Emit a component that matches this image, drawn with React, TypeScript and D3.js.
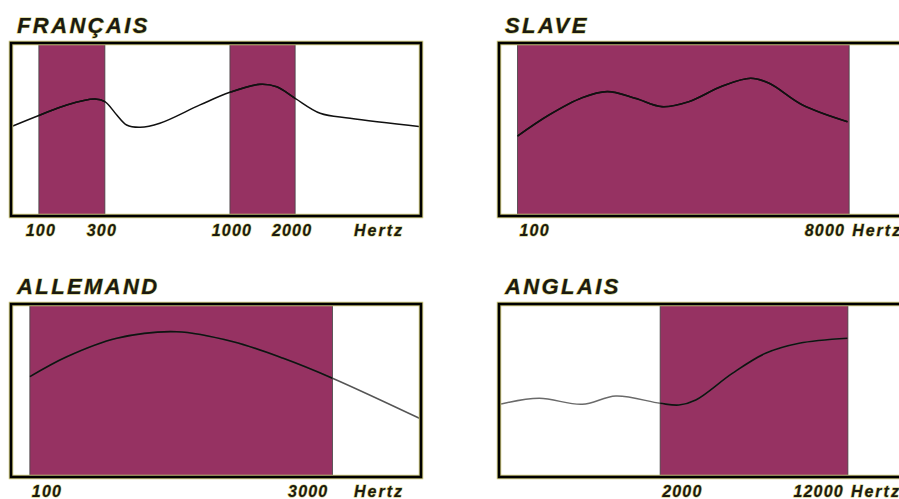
import React, { useEffect, useRef } from 'react';
import * as d3 from 'd3';

// panel titles
const titles = ['FRANÇAIS', 'SLAVE', 'ALLEMAND', 'ANGLAIS'];

// position along the axis (0-100) / level (0-100)
const francaisCurve = [
  [0, 51.6], [7.1, 58.4], [13.6, 64.2], [20.5, 67.6], [22.9, 66.1], [25.8, 58.4],
  [28.2, 52.6], [31.5, 51.3], [36.3, 53.6], [46.1, 64.2], [53.4, 71.5], [60.7, 76.1],
  [64.8, 74.7], [69.3, 68.0], [75.4, 59.4], [82.7, 56.5], [100, 51.6],
];
const slaveCurve = [
  [4.5, 46.2], [12.2, 58.4], [20.3, 68.4], [26.4, 71.9], [33.3, 68.0], [39.8, 63.2],
  [46.3, 66.1], [54.5, 75.1], [61.4, 79.6], [65.9, 76.7], [74.0, 64.2], [85.0, 54.5],
];
const allemandCurve = [
  [4.6, 58.0], [13.6, 69.5], [25.8, 80.2], [40.4, 84.0], [54.2, 78.2],
  [66.4, 68.6], [78.4, 57.1], [100, 33.5],
];
const anglaisCurve = [
  [0.5, 42.2], [9.8, 45.5], [20.3, 42.0], [28.5, 46.8], [39.3, 42.6], [43.9, 41.6],
  [48.0, 44.5], [56.9, 59.9], [65.0, 71.5], [73.2, 77.3], [85.0, 80.2],
];

// frequency bands (axis positions) and their tick labels
const francaisBands = [[6.8, 22.9], [53.4, 69.3]];
const francaisTicks = [['100', '300'], ['1000', '2000']];
const slaveBands = [[4.5, 85.4]];
const slaveTicks = [['100', '8000']];
const allemandBands = [[4.6, 78.4]];
const allemandTicks = [['100', '3000']];
const anglaisBands = [[39.3, 85.1]];
const anglaisTicks = [['2000', '12000']];

const unit = 'Hertz';

const panels = [
  { title: titles[0], curve: francaisCurve, bands: francaisBands, ticks: francaisTicks, outside: '#111' },
  { title: titles[1], curve: slaveCurve, bands: slaveBands, ticks: slaveTicks, outside: '#111' },
  { title: titles[2], curve: allemandCurve, bands: allemandBands, ticks: allemandTicks, outside: '#555' },
  { title: titles[3], curve: anglaisCurve, bands: anglaisBands, ticks: anglaisTicks, outside: '#6a6a6a' },
];

export default function App() {
  const ref = useRef<SVGSVGElement>(null);

  useEffect(() => {
    const svg = d3.select(ref.current);
    svg.selectAll('*').remove();

    const boxW = 410;
    const boxH = 173;
    const lefts = [11, 499];
    const tops = [43, 304];

    panels.forEach((p, i) => {
      const x0 = lefts[i % 2];
      const y0 = tops[Math.floor(i / 2)];
      const g = svg.append('g').attr('transform', `translate(${x0},${y0})`);

      const x = d3.scaleLinear().domain([0, 100]).range([0, boxW]);
      const y = d3.scaleLinear().domain([0, 100]).range([boxH, 0]);

      g.append('rect').attr('width', boxW).attr('height', boxH).attr('fill', '#fff');

      g.selectAll('rect.band').data(p.bands).enter()
        .append('rect')
        .attr('class', 'band')
        .attr('x', d => x(d[0]))
        .attr('width', d => x(d[1]) - x(d[0]))
        .attr('height', boxH)
        .attr('fill', '#963262')
        .attr('stroke', '#444')
        .attr('stroke-width', 0.8);

      const line = d3.line<number[]>()
        .x(d => x(d[0]))
        .y(d => y(d[1]))
        .curve(d3.curveCatmullRom.alpha(0.5));

      const clipId = 'clip' + i;
      const clip = g.append('clipPath').attr('id', clipId);
      clip.selectAll('rect').data(p.bands).enter()
        .append('rect')
        .attr('x', d => x(d[0]))
        .attr('width', d => x(d[1]) - x(d[0]))
        .attr('height', boxH);

      g.append('path').attr('d', line(p.curve))
        .attr('fill', 'none').attr('stroke', p.outside).attr('stroke-width', 1.5);
      g.append('path').attr('d', line(p.curve))
        .attr('fill', 'none').attr('stroke', '#111').attr('stroke-width', 1.6)
        .attr('clip-path', `url(#${clipId})`);

      // frame with a faint yellow halo
      g.append('rect').attr('width', boxW).attr('height', boxH)
        .attr('fill', 'none').attr('stroke', '#c9c47a').attr('stroke-width', 4.5);
      g.append('rect').attr('width', boxW).attr('height', boxH)
        .attr('fill', 'none').attr('stroke', '#000').attr('stroke-width', 2.6);

      const textStyle = (t: any, size: number, spacing: number) => t
        .attr('font-family', '"Liberation Sans", Arial, sans-serif')
        .attr('font-weight', 'bold')
        .attr('font-style', 'italic')
        .attr('font-size', size)
        .attr('letter-spacing', spacing)
        .attr('fill', '#1a1a12')
        .attr('stroke', '#cfc86a')
        .attr('stroke-width', 1)
        .attr('paint-order', 'stroke');

      textStyle(g.append('text').attr('x', 6).attr('y', -10).text(p.title), 22, 2.4);

      p.bands.forEach((b, j) => {
        const wide = x(b[1]) - x(b[0]) > 120;
        textStyle(g.append('text')
          .attr('x', x(b[0]) + (wide ? 2 : 2))
          .attr('y', boxH + 20)
          .attr('text-anchor', wide ? 'start' : 'middle')
          .text(p.ticks[j][0]), 16, 1.2);
        textStyle(g.append('text')
          .attr('x', x(b[1]) - (wide ? 4 : 3))
          .attr('y', boxH + 20)
          .attr('text-anchor', wide ? 'end' : 'middle')
          .text(p.ticks[j][1]), 16, 1.2);
      });

      const lastEdge = x(p.bands[p.bands.length - 1][1]);
      textStyle(g.append('text')
        .attr('x', Math.max(lastEdge + 3, boxW - 67))
        .attr('y', boxH + 20)
        .text(unit), 16, 2);
    });
  }, []);

  return (
    <svg ref={ref} width={899} height={499}
      style={{ position: 'absolute', left: 0, top: 0, background: '#fff' }} />
  );
}
